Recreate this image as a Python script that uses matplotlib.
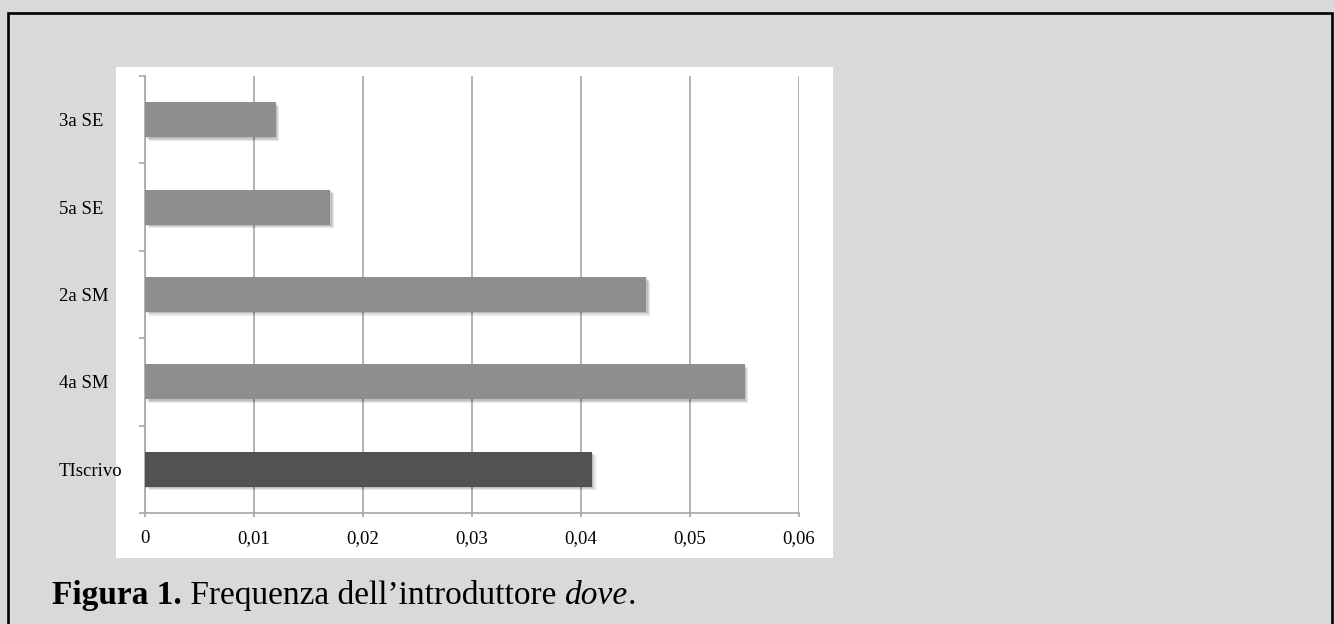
import matplotlib
matplotlib.use("Agg")
import matplotlib.pyplot as plt
import matplotlib.patheffects as pe
from matplotlib.patches import Rectangle

# data, top to bottom as in the chart
categories = ["3a SE", "5a SE", "2a SM", "4a SM", "TIscrivo"]
values = [0.012, 0.017, 0.046, 0.055, 0.041]
bar_colors = ["#8e8e8e", "#8e8e8e", "#8e8e8e", "#8e8e8e", "#525252"]
x_ticks = [0, 0.01, 0.02, 0.03, 0.04, 0.05, 0.06]
x_labels = ["0", "0,01", "0,02", "0,03", "0,04", "0,05", "0,06"]

plt.rcParams["font.family"] = ["Liberation Serif", "DejaVu Serif"]

W, H = 1335, 624
fig = plt.figure(figsize=(W / 100, H / 100), dpi=100)
fig.patch.set_facecolor("#d9d9d9")

# black frame (bottom edge runs off the page)
fig.patches.append(Rectangle((8 / W, -0.1), (1332 - 8) / W, 1.1 - 13 / H,
                             transform=fig.transFigure, fill=False,
                             edgecolor="black", linewidth=1.9, zorder=0))
# white chart area
fig.patches.append(Rectangle((116 / W, 1 - 558 / H), 717 / W, 491 / H,
                             transform=fig.transFigure, facecolor="white",
                             edgecolor="none", zorder=0.5))

ax = fig.add_axes([145 / W, 1 - 513 / H, 654 / W, 437 / H])
ax.set_zorder(2)
ax.set_facecolor("none")

n = len(categories)
ypos = [n - 1 - i for i in range(n)]
shadow = [pe.SimplePatchShadow(offset=(o, -o), shadow_rgbFace="black", alpha=0.09)
          for o in (1.0, 1.8, 2.6)] + [pe.Normal()]
bars = ax.barh(ypos, values, height=0.4, color=bar_colors, zorder=3)
for b in bars:
    b.set_path_effects(shadow)

ax.set_xlim(0, 0.06)
ax.set_ylim(-0.5, n - 0.5)
ax.set_xticks(x_ticks)
ax.set_xticklabels(x_labels, fontsize=13.5)
ax.set_yticks(ypos)
ax.set_yticklabels(categories, fontsize=13.5, ha="left")
ax.set_yticks([i - 0.5 for i in range(n + 1)], minor=True)

grid_c = "#a6a6a6"
ax.grid(axis="x", color=grid_c, linewidth=1.2, zorder=0)
for s in ["top", "right"]:
    ax.spines[s].set_visible(False)
for s in ["left", "bottom"]:
    ax.spines[s].set_color(grid_c)
    ax.spines[s].set_linewidth(1.2)

ax.tick_params(axis="y", which="major", length=0, pad=61.9, labelcolor="black")
ax.tick_params(axis="y", which="minor", length=4.3, color=grid_c, width=1.2)
ax.tick_params(axis="x", length=3, color=grid_c, width=1.2, pad=9, labelcolor="black")

# caption with mixed styles
parts = [("Figura 1.", "bold", "normal"),
         (" Frequenza dell\u2019introduttore ", "normal", "normal"),
         ("dove", "normal", "italic"),
         (".", "normal", "normal")]
x = 52 / W
y = 1 - 604 / H
fig.canvas.draw()
r = fig.canvas.get_renderer()
for txt, wt, st in parts:
    t = fig.text(x, y, txt, fontsize=24, fontweight=wt, fontstyle=st,
                 va="baseline", ha="left", color="black")
    bb = t.get_window_extent(renderer=r)
    x = bb.x1 / W

fig.savefig("out.png", dpi=100, facecolor=fig.get_facecolor())
